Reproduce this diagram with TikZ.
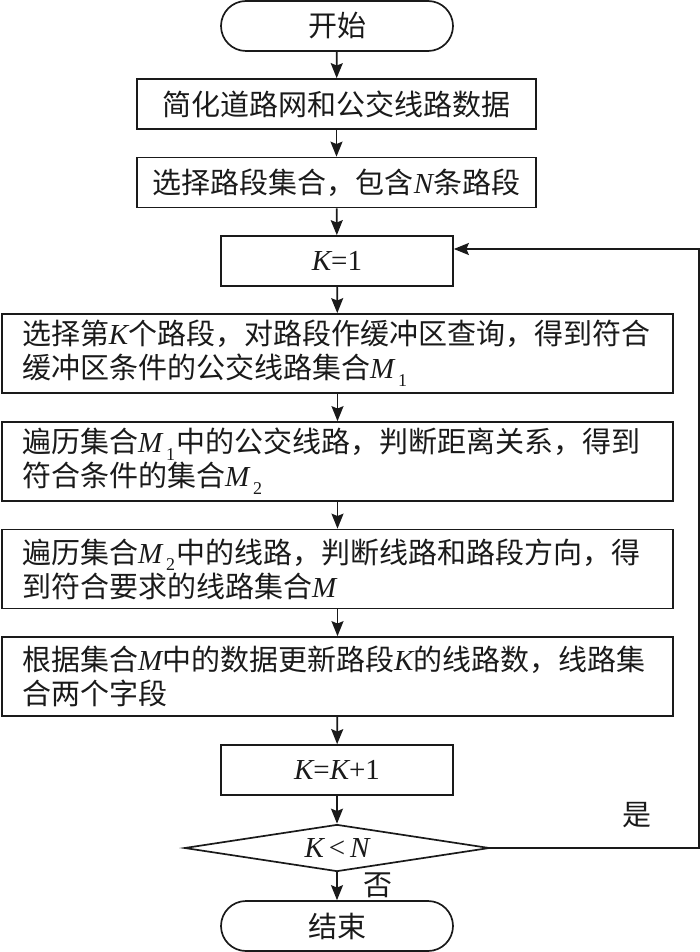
\documentclass[tikz,border=0pt]{standalone}
\usepackage{fontspec}
\setmainfont{Noto Sans CJK SC}
\newfontfamily\fcLatin{Liberation Serif}
\usetikzlibrary{arrows.meta,shapes.geometric,shapes.misc}
\definecolor{fcInk}{HTML}{1A1A1A}
\newcommand{\fcFont}{\fontsize{14.5pt}{17pt}\selectfont}
\newcommand{\fcVar}[1]{{\fcLatin\itshape #1}}
\newcommand{\fcUp}[1]{{\fcLatin #1}}
\newcommand{\fcSub}[2]{\fcVar{#1}\kern2pt\raisebox{-0.5ex}{\fcLatin\fontsize{9pt}{9pt}\selectfont #2}\kern0.5pt}
\tikzset{
  fc line/.style={draw=fcInk, line width=0.85pt},
  fc arrow/.style={fc line, -{Stealth[length=7.5pt,width=6pt,inset=1.2pt]}},
  fc box/.style={fc line, rectangle, inner sep=0pt, minimum height=25pt, font=\fcFont, text=fcInk},
  fc wide/.style={fc box, minimum width=335.5pt, minimum height=39.5pt, align=left, text width=315.5pt, inner xsep=10pt},
  fc term/.style={fc line, rounded rectangle, rounded rectangle arc length=180, inner sep=0pt, minimum width=116pt, minimum height=25pt, font=\fcFont, text=fcInk},
  fc dec/.style={fc line, diamond, shape aspect=6.5, inner sep=0pt, minimum width=152.5pt, minimum height=23.5pt, font=\fcFont, text=fcInk},
  fc label/.style={font=\fcFont, text=fcInk},
}
\begin{document}
\begin{tikzpicture}[x=0.5pt,y=-0.5pt]
  \useasboundingbox (0,0) rectangle (700,952);
  % main column
  \node[fc term] (start) at (337,26) {开始};
  \node[fc box, minimum width=199.5pt] (simplify) at (336.5,104) {简化道路网和公交线路数据};
  \node[fc box, minimum width=199.5pt] (segset) at (336.5,182.5) {选择路段集合，包含\fcVar{N}条路段};
  \node[fc box, minimum width=116pt] (kinit) at (337,261) {\fcVar{K}\fcUp{=1}};
  \node[fc wide] (buffer) at (337.5,353.5) {选择第\fcVar{K}个路段，对路段作缓冲区查询，得到符合\\缓冲区条件的公交线路集合\fcSub{M}{1}};
  \node[fc wide] (dist) at (337.5,461.5) {遍历集合\fcSub{M}{1}中的公交线路，判断距离关系，得到\\符合条件的集合\fcSub{M}{2}};
  \node[fc wide] (dir) at (337.5,569) {遍历集合\fcSub{M}{2}中的线路，判断线路和路段方向，得\\到符合要求的线路集合\fcVar{M}};
  \node[fc wide] (update) at (337.5,676.5) {根据集合\fcVar{M}中的数据更新路段\fcVar{K}的线路数，线路集\\合两个字段};
  \node[fc box, minimum width=116pt] (kinc) at (337,770) {\fcVar{K}\fcUp{=}\fcVar{K}\fcUp{+1}};
  \node[fc dec] (test) at (337,848) {\fcVar{K}\fcUp{\,<\,}\fcVar{N}};
  \node[fc term] (stop) at (337,926) {结束};
  % labels
  \node[fc label] (yes) at (637,815) {是};
  \node[fc label] (no) at (378,885) {否};
  % arrows
  \foreach \a/\b in {start/simplify,simplify/segset,segset/kinit,kinit/buffer,buffer/dist,dist/dir,dir/update,update/kinc,kinc/test,test/stop}
    \draw[fc arrow] (\a) -- (\b);
  \coordinate (back) at (699,249);
  \draw[fc arrow] (test.east) -| (back) -- (kinit.east |- back);
\end{tikzpicture}
\end{document}
